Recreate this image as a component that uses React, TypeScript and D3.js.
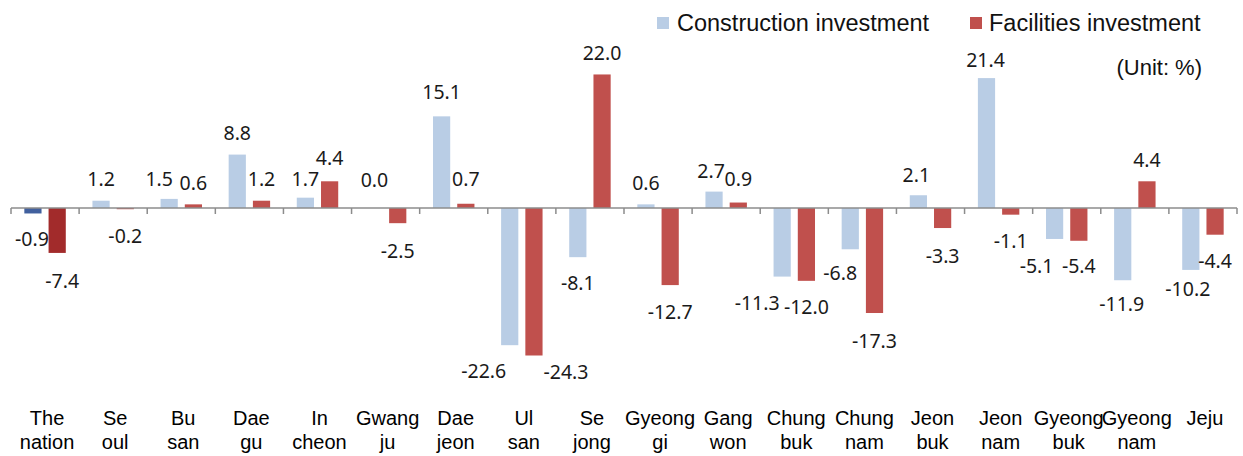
import React from "react";
import * as d3 from "d3";

const categories = [
  ["The", "nation"], ["Se", "oul"], ["Bu", "san"], ["Dae", "gu"], ["In", "cheon"],
  ["Gwang", "ju"], ["Dae", "jeon"], ["Ul", "san"], ["Se", "jong"], ["Gyeong", "gi"],
  ["Gang", "won"], ["Chung", "buk"], ["Chung", "nam"], ["Jeon", "buk"], ["Jeon", "nam"],
  ["Gyeong", "buk"], ["Gyeong", "nam"], ["Jeju", ""],
];
const construction = [-0.9, 1.2, 1.5, 8.8, 1.7, 0.0, 15.1, -22.6, -8.1, 0.6, 2.7, -11.3, -6.8, 2.1, 21.4, -5.1, -11.9, -10.2];
const facilities = [-7.4, -0.2, 0.6, 1.2, 4.4, -2.5, 0.7, -24.3, 22.0, -12.7, 0.9, -12.0, -17.3, -3.3, -1.1, -5.4, 4.4, -4.4];
const seriesNames = ["Construction investment", "Facilities investment"];

// label nudges [dx, dy] (layout tweaks, not data)
const nudgeC: [number, number][] = [
  [-1, 0], [0, 0], [-10, 2], [0, 0], [0, 3], [1, -7], [0, -3], [-26, 0], [0, 0], [0, 0],
  [-3, 1], [-25, 0], [-10, -2], [-2, 1], [-1, 3], [-18, 1], [-1, -2], [-3, -7],
];
const nudgeF: [number, number][] = [
  [5, 2], [0, 1], [0, 0], [0, 0], [0, -2], [0, 2], [0, -3], [32, -10], [0, 0], [0, 1],
  [0, -2], [0, 0], [0, 2], [0, 2], [0, 0], [0, -1], [0, 0], [0, 0],
];

const W = 1243, H = 456;
const COLORS = ["#B9CDE5", "#C0504D"];
const NATION_COLORS = ["#41609E", "#A22B2B"];

export default function App() {
  const y0 = 208;
  const k = 6.07;
  const y = d3.scaleLinear().domain([-25, 25]).range([y0 + 25 * k, y0 - 25 * k]);
  const idx = categories.map((_, i) => String(i));
  const x = d3.scaleBand().domain(idx).range([11, 1237]).paddingInner(0).paddingOuter(0);
  const bw = x.bandwidth();
  const x1 = d3.scaleBand().domain(["c", "f"]).range([0, bw]).paddingInner(0.29).paddingOuter(0.55);
  const barW = x1.bandwidth();
  const labelFont = "'Noto Sans', 'Open Sans', sans-serif";
  const axisFont = "'Liberation Sans', Arial, sans-serif";

  const bars: any[] = [];
  const labels: any[] = [];
  [construction, facilities].forEach((vals, s) => {
    const key = s === 0 ? "c" : "f";
    const nudges = s === 0 ? nudgeC : nudgeF;
    vals.forEach((v, i) => {
      const bx = (x(String(i)) as number) + (x1(key) as number);
      const top = y(Math.max(0, v));
      const bot = y(Math.min(0, v));
      const fill = i === 0 ? NATION_COLORS[s] : COLORS[s];
      bars.push(<rect key={`b${s}-${i}`} x={bx} y={top} width={barW} height={Math.max(0, bot - top)} fill={fill} />);
      const cx = bx + barW / 2 + nudges[i][0];
      const ly = v >= 0 ? top - 14.5 + nudges[i][1] : bot + 33 + nudges[i][1];
      labels.push(
        <text key={`l${s}-${i}`} x={cx} y={ly} textAnchor="middle" fontFamily={labelFont} fontSize={19.5} fill="#1a1a1a">
          {v.toFixed(1)}
        </text>
      );
    });
  });

  const ticks = d3.range(categories.length + 1).map((i) => (i < categories.length ? (x(String(i)) as number) : 1237));

  return (
    <div style={{ position: "fixed", left: 0, top: 0, width: W, height: H, background: "#fff" }}>
      <svg width={W} height={H} style={{ display: "block" }}>
        <rect width={W} height={H} fill="#fff" />
        {bars}
        <line x1={11} x2={1237} y1={y(0)} y2={y(0)} stroke="#8c8c8c" strokeWidth={1.5} />
        {ticks.map((t, i) => (
          <line key={`t${i}`} x1={t} x2={t} y1={y(0)} y2={y(0) + 6} stroke="#8c8c8c" strokeWidth={1.5} />
        ))}
        {labels}
        {categories.map((c, i) => {
          const cx = (x(String(i)) as number) + bw / 2 + 2;
          return (
            <text key={`c${i}`} x={cx} textAnchor="middle" fontFamily={axisFont} fontSize={20} fill="#000">
              <tspan x={cx} y={425}>{c[0]}</tspan>
              {c[1] ? <tspan x={cx} y={449}>{c[1]}</tspan> : null}
            </text>
          );
        })}
        {/* legend */}
        <rect x={657} y={17} width={12} height={12} fill={COLORS[0]} />
        <text x={677} y={31} fontFamily={axisFont} fontSize={23.5} fill="#111">{seriesNames[0]}</text>
        <rect x={970} y={17} width={12} height={12} fill={COLORS[1]} />
        <text x={989} y={31} fontFamily={axisFont} fontSize={23.5} fill="#111">{seriesNames[1]}</text>
        <text x={1202} y={75} textAnchor="end" fontFamily={axisFont} fontSize={22} fill="#111">(Unit: %)</text>
      </svg>
    </div>
  );
}
